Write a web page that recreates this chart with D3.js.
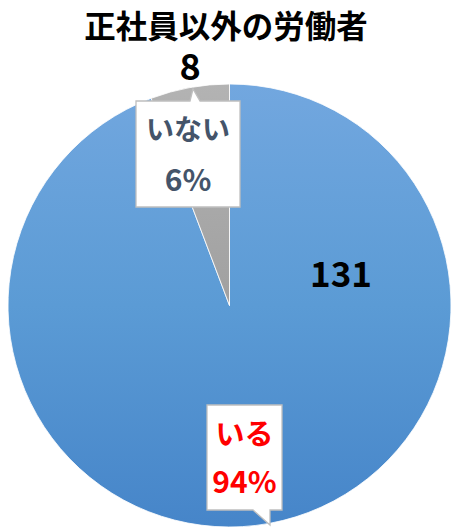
<!DOCTYPE html>
<html><head><meta charset="utf-8">
<script src="https://cdn.jsdelivr.net/npm/d3@7"></script>
<style>html,body{margin:0;padding:0;background:#fff;}svg{display:block;}</style>
</head><body>
<script>
const title = "正社員以外の労働者";
const categories = ["いる", "いない"];
const values = [131, 8];
const labelColors = ["#ff0000", "#44546a"];

const W = 452, H = 528;
const cx = 229.5, cy = 305.5, R = 221.5;
const font = "'Noto Sans CJK JP','Noto Sans',sans-serif";

const svg = d3.select("body").append("svg").attr("width", W).attr("height", H);
const defs = svg.append("defs");
const g1 = defs.append("linearGradient").attr("id","gBlue").attr("gradientUnits","userSpaceOnUse")
  .attr("x1",0).attr("y1",-R).attr("x2",0).attr("y2",R);
g1.append("stop").attr("offset","0%").attr("stop-color","#72a7df");
g1.append("stop").attr("offset","50%").attr("stop-color","#5b9bd5");
g1.append("stop").attr("offset","100%").attr("stop-color","#4685c9");
const g2 = defs.append("linearGradient").attr("id","gGray").attr("gradientUnits","userSpaceOnUse")
  .attr("x1",0).attr("y1",-R).attr("x2",0).attr("y2",0);
g2.append("stop").attr("offset","0%").attr("stop-color","#b3b3b3");
g2.append("stop").attr("offset","100%").attr("stop-color","#a0a0a0");
const fills = ["url(#gBlue)", "url(#gGray)"];

const total = d3.sum(values);
const pie = d3.pie().sort(null).value(d => d)(values);
const arc = d3.arc().innerRadius(0).outerRadius(R);
const pg = svg.append("g").attr("transform", `translate(${cx},${cy})`);
pg.selectAll("path").data(pie).join("path")
  .attr("d", arc).attr("fill", (d,i) => fills[i])
  .attr("stroke", "#ffffff").attr("stroke-width", 0.8);

// title
svg.append("text").attr("x", 226).attr("y", 38).attr("text-anchor","middle")
  .attr("font-family", font).attr("font-weight", 700).attr("font-size", 31.5)
  .attr("fill","#000").text(title);

// value labels
svg.append("text").attr("x", 190).attr("y", 80).attr("text-anchor","middle")
  .attr("font-family", font).attr("font-weight", 700).attr("font-size", 36)
  .attr("fill","#000").text(values[1]);
svg.append("text").attr("x", 341).attr("y", 287).attr("text-anchor","middle")
  .attr("font-family", font).attr("font-weight", 700).attr("font-size", 35)
  .attr("fill","#000").text(values[0]);

// callouts
function callout(box, ptr, color, lines) {
  const [x0,y0,x1,y1] = box;
  let pts;
  if (ptr.side === "top") {
    pts = [[x0,y0],[ptr.a,y0],ptr.tip,[ptr.b,y0],[x1,y0],[x1,y1],[x0,y1]];
  } else {
    pts = [[x0,y0],[x1,y0],[x1,y1],[ptr.b,y1],ptr.tip,[ptr.a,y1],[x0,y1]];
  }
  svg.append("polygon").attr("points", pts.map(p=>p.join(",")).join(" "))
    .attr("fill","#fff").attr("stroke","#bfbfbf").attr("stroke-width",1.3);
  const mx = (x0+x1)/2;
  lines.forEach(l => {
    svg.append("text").attr("x", mx).attr("y", l.y).attr("text-anchor","middle")
      .attr("font-family", font).attr("font-weight", 700).attr("font-size", l.size)
      .attr("fill", color).text(l.t);
  });
}
const pct = v => Math.round(v/total*100) + "%";
callout([136,101,240,207], {side:"top", a:190, b:200, tip:[193,89]}, labelColors[1],
  [{t:categories[1], y:140, size:28}, {t:pct(values[1]), y:191, size:30}]);
callout([207,405,282,510], {side:"bottom", a:253, b:270, tip:[270,525]}, labelColors[0],
  [{t:categories[0], y:445, size:29}, {t:pct(values[0]), y:493, size:30}]);
</script>
</body></html>
